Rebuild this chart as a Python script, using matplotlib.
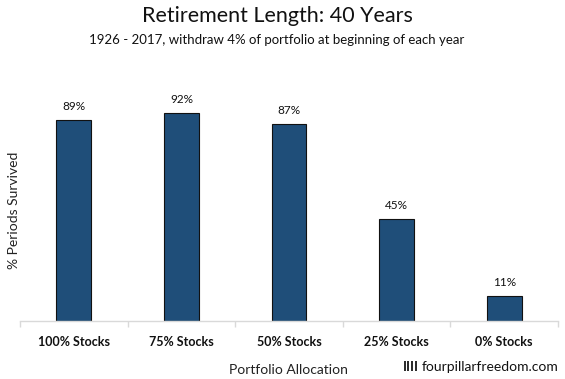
import matplotlib
matplotlib.use("Agg")
import matplotlib.pyplot as plt

# data
allocations = ["100% Stocks", "75% Stocks", "50% Stocks", "25% Stocks", "0% Stocks"]
survived = [89, 92, 87, 45, 11]

W, H = 565, 379
BAR_COLOR = "#1F4E79"
FONT = ["Lato", "DejaVu Sans"]

plt.rcParams["font.family"] = FONT


def fx(px):
    return px / W


def fy(py):
    return 1 - py / H


fig = plt.figure(figsize=(W / 100, H / 100), dpi=100)
ax = fig.add_axes([fx(20), fy(321), fx(558) - fx(20), (321 - 95) / H])

x = range(len(allocations))
bars = ax.bar(x, survived, width=0.325, color=BAR_COLOR,
              edgecolor="#111111", linewidth=0.8)
for rect, v in zip(bars, survived):
    ax.annotate(f"{v}%", (rect.get_x() + rect.get_width() / 2, v),
                xytext=(0, 6), textcoords="offset points",
                ha="center", va="bottom", fontsize=8.5, color="#111111")

ax.set_xlim(-0.5, len(allocations) - 0.5)
ax.set_ylim(0, 100)
ax.set_yticks([])
for s in ("top", "right", "left"):
    ax.spines[s].set_visible(False)
ax.spines["bottom"].set_color("#D9D9D9")
ax.spines["bottom"].set_linewidth(1.0)

# category labels centred, tick marks at boundaries
ax.set_xticks(list(x))
ax.set_xticklabels(allocations, fontsize=9, fontweight="bold", color="#111111")
ax.tick_params(axis="x", which="major", length=0, pad=11)
ax.set_xticks([i - 0.5 for i in range(len(allocations) + 1)], minor=True)
ax.tick_params(axis="x", which="minor", length=4, color="#D9D9D9", width=1.0)

fig.text(fx(277), fy(16), "Retirement Length: 40 Years", ha="center", va="center",
         fontsize=15.5, color="#111111")
fig.text(fx(277), fy(40), "1926 - 2017, withdraw 4% of portfolio at beginning of each year",
         ha="center", va="center", fontsize=9.5, color="#111111")
fig.text(fx(14), fy(210), "% Periods Survived", rotation=90, ha="center", va="center",
         fontsize=10, color="#222222")
fig.text(fx(288), fy(370), "Portfolio Allocation", ha="center", va="center",
         fontsize=10, color="#222222")
fig.text(fx(403), fy(367), "IIII", ha="left", va="center", fontsize=9.5,
         fontweight="bold", color="#111111")
fig.text(fx(422), fy(367), "fourpillarfreedom.com", ha="left", va="center",
         fontsize=10, color="#111111")

fig.savefig("out.png", dpi=100)
